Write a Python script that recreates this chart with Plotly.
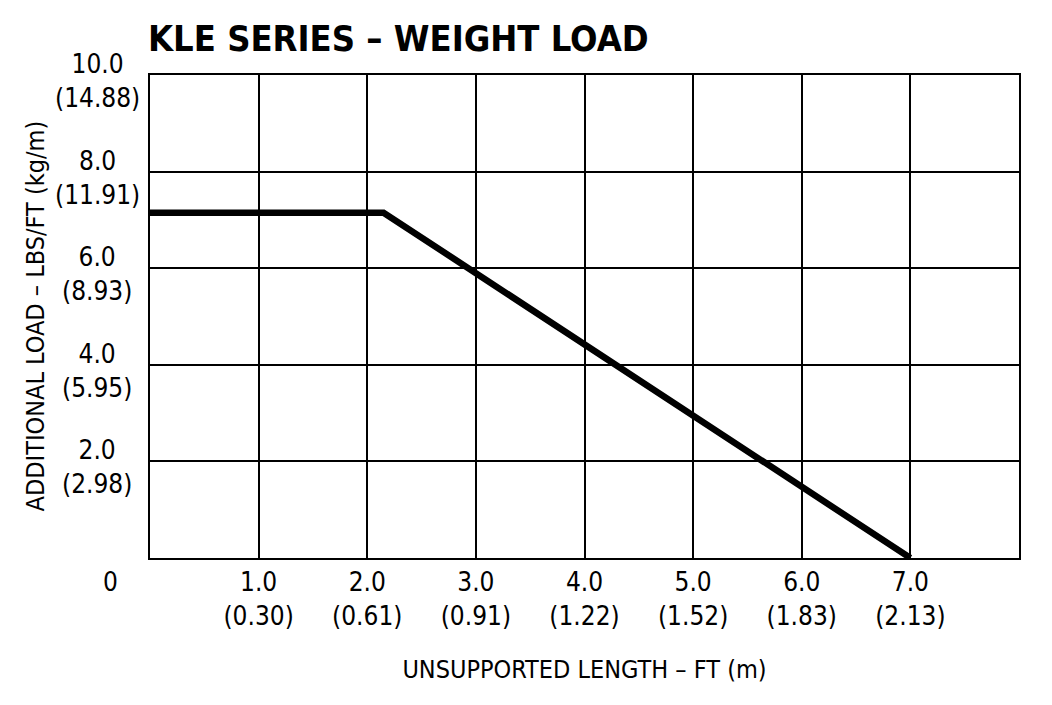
import plotly.graph_objects as go

# Load curve
length_ft = [0, 2.15, 7.0]
load_lbs_ft = [7.15, 7.15, 0]

# Tick labels
x_ticks = [1, 2, 3, 4, 5, 6, 7]
x_tick_text = ["1.0<br>(0.30)", "2.0<br>(0.61)", "3.0<br>(0.91)", "4.0<br>(1.22)",
               "5.0<br>(1.52)", "6.0<br>(1.83)", "7.0<br>(2.13)"]
y_ticks = [2, 4, 6, 8, 10]
y_tick_text = ["2.0<br>(2.98)", "4.0<br>(5.95)", "6.0<br>(8.93)", "8.0<br>(11.91)", "10.0<br>(14.88)"]

FONT = "Liberation Sans Narrow, DejaVu Sans Condensed, sans-serif"

fig = go.Figure()

fig.add_trace(go.Scatter(
    x=length_ft, y=load_lbs_ft,
    mode="lines",
    line=dict(color="black", width=6.5),
    showlegend=False,
    hoverinfo="skip"
))

# y tick labels, centred like the original
for v, t in zip(y_ticks, y_tick_text):
    fig.add_annotation(x=0, y=v, xref="x", yref="y", text=t, showarrow=False,
                       xanchor="center", yanchor="middle", align="center",
                       xshift=-53, yshift=-6, font=dict(family=FONT, size=26, color="black"))

# lone zero at the origin
fig.add_annotation(x=0, y=0, xref="x", yref="y", text="0", showarrow=False,
                   xanchor="center", yanchor="middle", xshift=-40, yshift=-24,
                   font=dict(family=FONT, size=26, color="black"))

fig.add_annotation(x=0, y=0.5, xref="paper", yref="paper",
                   text="ADDITIONAL LOAD – LBS/FT (kg/m)", textangle=-90,
                   showarrow=False, xanchor="center", yanchor="middle", xshift=-115,
                   font=dict(family=FONT, size=25, color="black"))

# page body has an 8px margin, so the figure is drawn 8px smaller
W, H = 1044, 697
fig.update_layout(
    width=W, height=H,
    margin=dict(l=142, r=33, t=67, b=147),
    paper_bgcolor="white", plot_bgcolor="white",
    title=dict(text="<b>KLE SERIES – WEIGHT LOAD</b>", x=140 / W, xanchor="left",
               y=1 - 30 / H, yanchor="middle",
               font=dict(family="DejaVu Sans Condensed, sans-serif", size=36, color="black")),
    xaxis=dict(
        range=[0, 8], tickvals=x_ticks, ticktext=x_tick_text,
        showgrid=True, gridcolor="black", gridwidth=1.5,
        showline=True, linecolor="black", linewidth=2, mirror=True,
        ticks="", zeroline=False,
        tickfont=dict(family=FONT, size=26, color="black"),
        title=dict(text="UNSUPPORTED LENGTH – FT (m)", standoff=30,
                   font=dict(family=FONT, size=25, color="black")),
        fixedrange=True
    ),
    yaxis=dict(
        range=[0, 10], tickvals=[2, 4, 6, 8], showticklabels=False,
        showgrid=True, gridcolor="black", gridwidth=1.5,
        showline=True, linecolor="black", linewidth=2, mirror=True,
        ticks="", zeroline=False, fixedrange=True
    ),
)

fig.write_html("out.html")
